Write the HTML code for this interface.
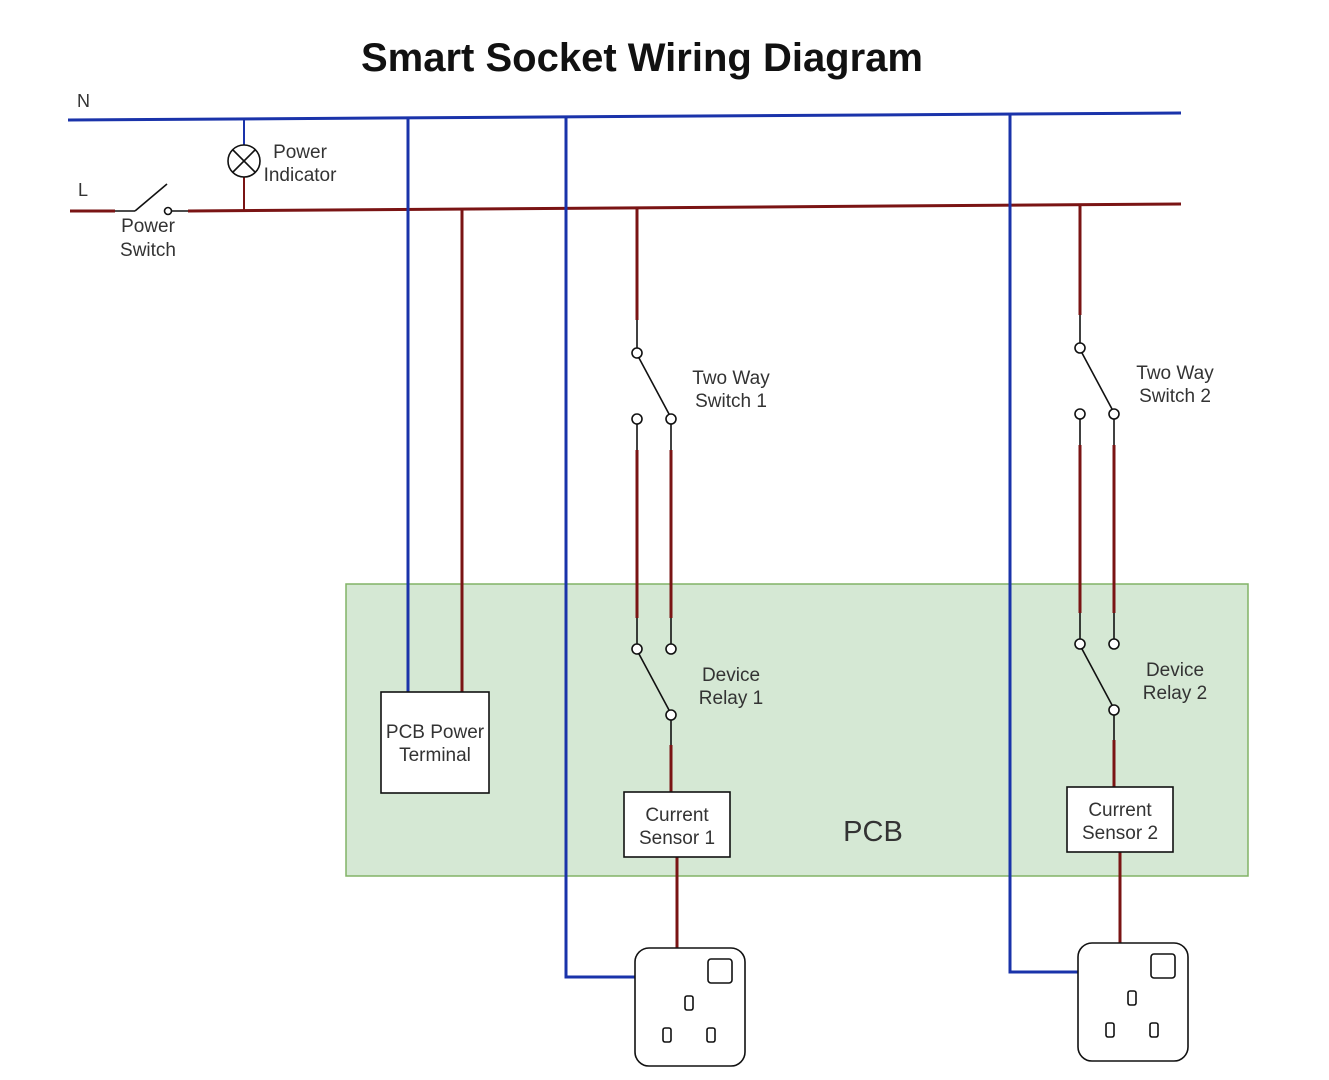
<!DOCTYPE html>
<html><head><meta charset="utf-8"><style>body{margin:0;background:#fff}svg{display:block}text{font-family:"Liberation Sans",sans-serif;fill:#333}</style></head><body>
<svg width="1329" height="1080" viewBox="0 0 1329 1080" xmlns="http://www.w3.org/2000/svg">
<rect x="346" y="584" width="902" height="292" fill="#d5e8d4" stroke="#82b366" stroke-width="1.5"/>
<text x="642" y="71" font-size="40" font-weight="bold" text-anchor="middle" style="fill:#111">Smart Socket Wiring Diagram</text>
<text x="77" y="107" font-size="18">N</text>
<text x="78" y="196" font-size="18">L</text>
<g fill="none" stroke-width="3">
<line x1="68" y1="120" x2="1181" y2="113" stroke="#1a33aa"/>
<line x1="188" y1="211" x2="1181" y2="204" stroke="#7a1414"/>
<line x1="70" y1="211" x2="115" y2="211" stroke="#7a1414"/>
<line x1="244" y1="119" x2="244" y2="145" stroke="#1a33aa" stroke-width="2"/>
<line x1="244" y1="177" x2="244" y2="210" stroke="#7a1414" stroke-width="2"/>
<line x1="408" y1="118" x2="408" y2="692" stroke="#1a33aa"/>
<line x1="462" y1="209" x2="462" y2="692" stroke="#7a1414"/>
<polyline points="566,117 566,977 635,977" stroke="#1a33aa"/>
<polyline points="1010,114 1010,972 1078,972" stroke="#1a33aa"/>
<line x1="637" y1="208" x2="637" y2="320" stroke="#7a1414"/>
<line x1="637" y1="450" x2="637" y2="618" stroke="#7a1414"/>
<line x1="671" y1="450" x2="671" y2="618" stroke="#7a1414"/>
<line x1="671" y1="745" x2="671" y2="792" stroke="#7a1414"/>
<line x1="677" y1="857" x2="677" y2="948" stroke="#7a1414"/>
<line x1="1080" y1="205" x2="1080" y2="315" stroke="#7a1414"/>
<line x1="1080" y1="445" x2="1080" y2="613" stroke="#7a1414"/>
<line x1="1114" y1="445" x2="1114" y2="613" stroke="#7a1414"/>
<line x1="1114" y1="740" x2="1114" y2="787" stroke="#7a1414"/>
<line x1="1120" y1="852" x2="1120" y2="943" stroke="#7a1414"/>
</g>
<g fill="none" stroke="#111" stroke-width="1.6">
<line x1="115" y1="211" x2="135" y2="211"/>
<line x1="135" y1="211" x2="167" y2="184"/>
<circle cx="168" cy="211" r="3.5" fill="#fff"/>
<line x1="171" y1="211" x2="188" y2="211"/>
<circle cx="244" cy="161" r="16" fill="#fff"/>
<line x1="233" y1="150" x2="255" y2="172"/><line x1="255" y1="150" x2="233" y2="172"/>
<g id="s1">
<line x1="637" y1="320" x2="637" y2="348"/>
<circle cx="637" cy="353" r="5" fill="#fff"/>
<line x1="639" y1="358" x2="669" y2="414"/>
<circle cx="637" cy="419" r="5" fill="#fff"/><circle cx="671" cy="419" r="5" fill="#fff"/>
<line x1="637" y1="424" x2="637" y2="450"/><line x1="671" y1="424" x2="671" y2="450"/>
<line x1="637" y1="618" x2="637" y2="644"/><line x1="671" y1="618" x2="671" y2="644"/>
<circle cx="637" cy="649" r="5" fill="#fff"/><circle cx="671" cy="649" r="5" fill="#fff"/>
<line x1="639" y1="654" x2="669" y2="710"/>
<circle cx="671" cy="715" r="5" fill="#fff"/>
<line x1="671" y1="720" x2="671" y2="745"/>
<rect x="624" y="792" width="106" height="65" fill="#fff"/>
<rect x="635" y="948" width="110" height="118" rx="14" fill="#fff"/>
<rect x="708" y="959" width="24" height="24" rx="3"/>
<rect x="685" y="996" width="8" height="14" rx="2"/>
<rect x="663" y="1028" width="8" height="14" rx="2"/>
<rect x="707" y="1028" width="8" height="14" rx="2"/>
</g>
<use href="#s1" transform="translate(443,-5)"/>
<rect x="381" y="692" width="108" height="101" fill="#fff"/>
</g>
<g font-size="19" text-anchor="middle">
<text x="300" y="158">Power</text><text x="300" y="181">Indicator</text>
<text x="148" y="232">Power</text><text x="148" y="256">Switch</text>
<text x="731" y="384">Two Way</text><text x="731" y="407">Switch 1</text>
<text x="1175" y="379">Two Way</text><text x="1175" y="402">Switch 2</text>
<text x="731" y="681">Device</text><text x="731" y="704">Relay 1</text>
<text x="1175" y="676">Device</text><text x="1175" y="699">Relay 2</text>
<text x="677" y="821">Current</text><text x="677" y="844">Sensor 1</text>
<text x="1120" y="816">Current</text><text x="1120" y="839">Sensor 2</text>
<text x="435" y="738">PCB Power</text><text x="435" y="761">Terminal</text>
<text x="873" y="841" font-size="29">PCB</text>
</g>
</svg>
</body></html>
